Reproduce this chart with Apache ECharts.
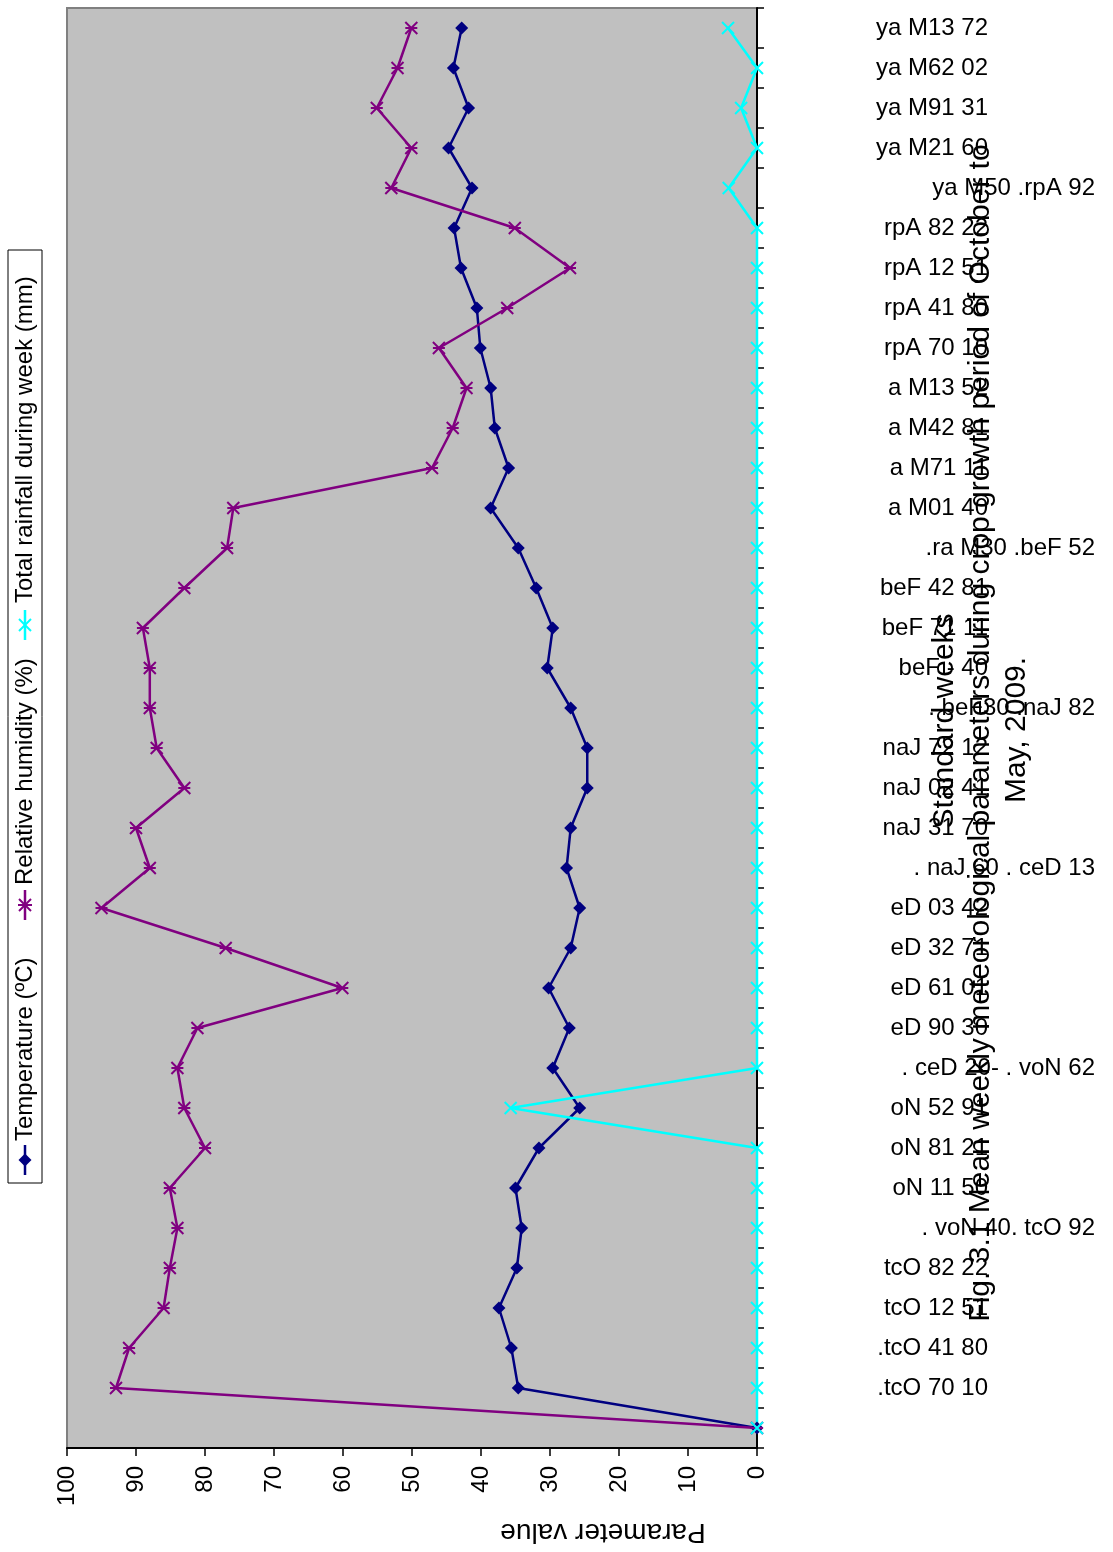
<!DOCTYPE html>
<html>
<head>
<meta charset="utf-8">
<script src="https://cdn.jsdelivr.net/npm/echarts@6/dist/echarts.min.js"></script>
<style>
  html, body { margin: 0; padding: 0; background: #ffffff; }
  #chart { width: 1113px; height: 1552px; }
</style>
</head>
<body>
<div id="chart"></div>
<script>
// Standard weeks (bottom to top); first category is blank
var weeks = ['', '.tcO 70 10', '.tcO 41 80', 'tcO 12 51', 'tcO 82 22', '. voN 40. tcO 92',
  'oN 11 50', 'oN 81 21', 'oN 52 91', '. ceD 20- . voN 62', 'eD 90 30', 'eD 61 01',
  'eD 32 71', 'eD 03 42', '. naJ 60 . ceD 13', 'naJ 31 70', 'naJ 02 41', 'naJ 72 12',
  '. beF30 .naJ 82', 'beF - 40', 'beF 71 11', 'beF 42 81', '.ra M30 .beF 52', 'a M01 40',
  'a M71 11', 'a M42 81', 'a M13 52', 'rpA 70 10', 'rpA 41 80', 'rpA 12 51', 'rpA 82 22',
  'ya M50 .rpA 92', 'ya M21 60', 'ya M91 31', 'ya M62 02', 'ya M13 72'];
var longLabels = [5, 9, 14, 18, 22, 31];

var temperature = [0, 34.6, 35.6, 37.4, 34.8, 34.1, 35.0, 31.6, 25.7, 29.6, 27.2, 30.2,
  27.0, 25.7, 27.6, 27.0, 24.6, 24.6, 27.0, 30.4, 29.6, 32.0, 34.6, 38.6, 36.0, 38.0,
  38.6, 40.1, 40.6, 42.9, 43.9, 41.3, 44.7, 41.8, 44.0, 42.8];
var humidity = [0, 92.9, 91.0, 86.0, 85.1, 84.0, 85.1, 80.0, 83.0, 84.0, 81.1, 60.1,
  77.0, 95.0, 88.0, 90.0, 83.0, 87.0, 88.0, 88.0, 89.0, 83.0, 76.8, 75.9, 47.1, 44.1,
  42.1, 46.1, 36.2, 27.1, 35.1, 53.0, 50.1, 55.1, 52.1, 50.1];
var rainfall = [0, 0, 0, 0, 0, 0, 0, 0, 35.7, 0, 0, 0, 0, 0, 0, 0, 0, 0, 0, 0, 0, 0, 0, 0,
  0, 0, 0, 0, 0, 0, 0, 4.1, 0, 2.3, 0, 4.2];

var valueTicks = [0, 10, 20, 30, 40, 50, 60, 70, 80, 90, 100];
var seriesNames = ['Temperature (ºC)', 'Relative humidity (%)', 'Total rainfall during week (mm)'];
var colors = ['#000080', '#800080', '#00FFFF'];

var FONT = '"Liberation Sans", Arial, Helvetica, sans-serif';
var starPath = 'path://M0,0L12,12M12,0L0,12M0,6L12,6';
var crossPath = 'path://M0,0L12,12M12,0L0,12';

var chart = echarts.init(document.getElementById('chart'), null, { renderer: 'canvas' });

// legend drawn rotated (reads bottom to top)
function legendItem(idx, x0, textX) {
  var c = colors[idx];
  var els = [{
    type: 'line', shape: { x1: x0, y1: 17, x2: x0 + 30, y2: 17 },
    style: { stroke: c, lineWidth: 2.5 }
  }];
  var mx = x0 + 15, my = 17;
  if (idx === 0) {
    els.push({ type: 'polygon', shape: { points: [[mx - 6.5, my], [mx, my - 6.5], [mx + 6.5, my], [mx, my + 6.5]] },
      style: { fill: c } });
  } else if (idx === 1) {
    els.push({ type: 'polyline', shape: { points: [[mx - 6, my - 6], [mx + 6, my + 6]] }, style: { stroke: c, lineWidth: 2 } });
    els.push({ type: 'polyline', shape: { points: [[mx + 6, my - 6], [mx - 6, my + 6]] }, style: { stroke: c, lineWidth: 2 } });
    els.push({ type: 'polyline', shape: { points: [[mx, my - 7], [mx, my + 7]] }, style: { stroke: c, lineWidth: 2 } });
  } else {
    els.push({ type: 'polyline', shape: { points: [[mx - 6, my - 6], [mx + 6, my + 6]] }, style: { stroke: c, lineWidth: 2 } });
    els.push({ type: 'polyline', shape: { points: [[mx + 6, my - 6], [mx - 6, my + 6]] }, style: { stroke: c, lineWidth: 2 } });
  }
  els.push({
    type: 'text',
    style: { text: seriesNames[idx], x: textX, y: 17, font: '24px ' + FONT, fill: '#000',
      textAlign: 'left', textVerticalAlign: 'middle' }
  });
  return els;
}

var legendChildren = [{
  type: 'rect', shape: { x: 0, y: 0, width: 933, height: 34 },
  style: { fill: '#ffffff', stroke: '#000000', lineWidth: 1 }
}].concat(legendItem(0, 8, 42), legendItem(1, 263, 298), legendItem(2, 543, 580));

var option = {
  backgroundColor: '#ffffff',
  animation: false,
  grid: {
    left: 67, top: 8, width: 690, height: 1440,
    show: true, backgroundColor: '#C0C0C0', borderColor: '#808080', borderWidth: 2,
    containLabel: false
  },
  xAxis: {
    type: 'value', min: valueTicks[0], max: valueTicks[valueTicks.length - 1], interval: 10,
    inverse: true, position: 'bottom',
    axisLine: { show: true, lineStyle: { color: '#000', width: 2 } },
    axisTick: { show: true, length: 8, lineStyle: { color: '#000', width: 1.5 } },
    splitLine: { show: false },
    axisLabel: { rotate: 90, margin: 18, fontSize: 24, fontFamily: FONT, color: '#000' }
  },
  yAxis: {
    type: 'category', data: weeks, position: 'right', boundaryGap: true,
    axisLine: { show: true, lineStyle: { color: '#000', width: 2 } },
    axisTick: { show: true, length: 7, alignWithLabel: false, lineStyle: { color: '#000', width: 1.5 } },
    splitLine: { show: false },
    axisLabel: {
      interval: 0, margin: 113, align: 'left', fontSize: 24, fontFamily: FONT, color: '#000',
      formatter: function (v, i) {
        if (v === '') return '';
        return longLabels.indexOf(i) >= 0 ? '{l|' + v + '}' : '{s|' + v + '}';
      },
      rich: {
        s: { width: 118, align: 'right', fontSize: 24, fontFamily: FONT, color: '#000' },
        l: { width: 225, align: 'right', fontSize: 24, fontFamily: FONT, color: '#000' }
      }
    }
  },
  legend: { show: false },
  series: [
    {
      name: seriesNames[0], type: 'line', data: temperature, clip: false,
      symbol: 'diamond', symbolSize: 13,
      lineStyle: { color: colors[0], width: 2.5 },
      itemStyle: { color: colors[0] }
    },
    {
      name: seriesNames[1], type: 'line', data: humidity, clip: false,
      symbol: starPath, symbolSize: 12,
      lineStyle: { color: colors[1], width: 2.5 },
      itemStyle: { color: colors[1], borderColor: colors[1], borderWidth: 2 }
    },
    {
      name: seriesNames[2], type: 'line', data: rainfall, clip: false,
      symbol: crossPath, symbolSize: 12,
      lineStyle: { color: colors[2], width: 2.5 },
      itemStyle: { color: colors[2], borderColor: colors[2], borderWidth: 2 }
    }
  ],
  graphic: [
    { type: 'group', x: 8, y: 1183, rotation: Math.PI / 2, children: legendChildren },
    { type: 'text', x: 603, y: 1532, rotation: Math.PI,
      style: { text: 'Parameter value', font: '28px ' + FONT, fill: '#000', textAlign: 'center', textVerticalAlign: 'middle' } },
    { type: 'text', x: 945, y: 721, rotation: Math.PI / 2,
      style: { text: 'Standard weeks', font: '30px ' + FONT, fill: '#000', textAlign: 'center', textVerticalAlign: 'middle' } },
    { type: 'text', x: 981, y: 733, rotation: Math.PI / 2,
      style: { text: 'Fig. 3.1 Mean weekly meteorological parameters during crop growth period of October to', font: '30px ' + FONT, fill: '#000', textAlign: 'center', textVerticalAlign: 'middle' } },
    { type: 'text', x: 1017, y: 730, rotation: Math.PI / 2,
      style: { text: 'May, 2009.', font: '30px ' + FONT, fill: '#000', textAlign: 'center', textVerticalAlign: 'middle' } }
  ]
};
chart.setOption(option);
</script>
</body>
</html>
